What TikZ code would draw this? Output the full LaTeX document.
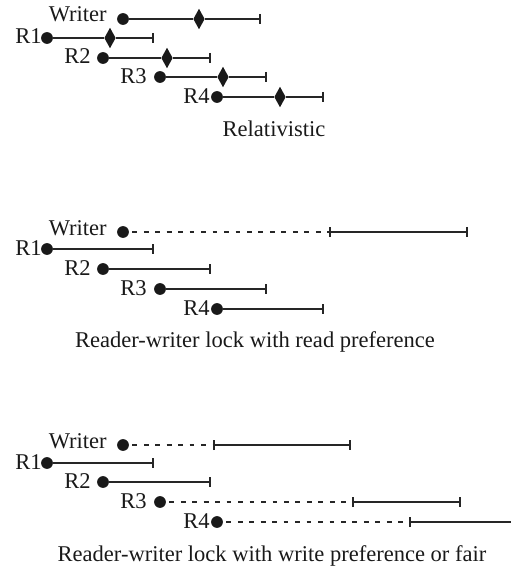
\documentclass[tikz,border=0pt]{standalone}
\usepackage{fontspec}
\setmainfont{Liberation Serif}
\usetikzlibrary{shapes.geometric,arrows.meta}
\begin{document}
\begin{tikzpicture}[x=0.75pt,y=-0.75pt,
  font=\fontsize{16.9pt}{20pt}\selectfont,
  dot/.style={circle,fill=black!90,draw=none,minimum size=8.8pt,inner sep=0pt},
  dia/.style={diamond,fill=black!90,draw=none,minimum width=8.6pt,minimum height=15.5pt,inner sep=0pt},
  lbl/.style={inner sep=0pt,anchor=base east,text=black!90},
  captext/.style={inner sep=0pt,anchor=base,text=black!90},
  seg/.style={line width=1.2pt,draw=black!85},
  endbar/.style={seg,-{Bar[width=7.5pt,line width=1.4pt]}},
  bothbar/.style={seg,{Bar[width=7.5pt,line width=1.4pt]}-{Bar[width=7.5pt,line width=1.4pt]}},
  startbar/.style={seg,{Bar[width=7.5pt,line width=1.4pt]}-},
  wait/.style={line width=1.2pt,draw=black!85,dash pattern=on 3.6pt off 5pt,dash phase=6.2pt}
]
\useasboundingbox (0,0) rectangle (511,573);

% ---------- Panel 1: Relativistic ----------
\node[dot] (w1) at (123,19) {};
\node[dia] (w1d) at (199,19) {};
\coordinate (w1e) at (261,19);
\node[lbl] (w1l) at (107,22) {Writer};
\draw[seg] (w1) -- (w1d);
\draw[endbar] (w1d) -- (w1e);

\node[dot] (a1) at (47,38) {};
\node[dia] (a1d) at (110,38) {};
\coordinate (a1e) at (154,38);
\node[lbl] (a1l) at (42,44) {R1};
\draw[seg] (a1) -- (a1d);
\draw[endbar] (a1d) -- (a1e);

\node[dot] (a2) at (103,58) {};
\node[dia] (a2d) at (167,58) {};
\coordinate (a2e) at (211,58);
\node[lbl] (a2l) at (91,64) {R2};
\draw[seg] (a2) -- (a2d);
\draw[endbar] (a2d) -- (a2e);

\node[dot] (a3) at (160,77) {};
\node[dia] (a3d) at (223,77) {};
\coordinate (a3e) at (267,77);
\node[lbl] (a3l) at (147,84) {R3};
\draw[seg] (a3) -- (a3d);
\draw[endbar] (a3d) -- (a3e);

\node[dot] (a4) at (217,97) {};
\node[dia] (a4d) at (280,97) {};
\coordinate (a4e) at (324,97);
\node[lbl] (a4l) at (210,104) {R4};
\draw[seg] (a4) -- (a4d);
\draw[endbar] (a4d) -- (a4e);

\node[captext] (c1) at (274,137) {Relativistic};

% ---------- Panel 2: read preference ----------
\node[dot] (w2) at (123,232) {};
\coordinate (w2m) at (329,232);
\coordinate (w2e) at (468,232);
\node[lbl] (w2l) at (107,235) {Writer};
\draw[wait] (w2) -- (w2m);
\draw[bothbar] (w2m) -- (w2e);

\node[dot] (b1) at (47,249) {};
\coordinate (b1e) at (154,249);
\node[lbl] (b1l) at (42,255) {R1};
\draw[endbar] (b1) -- (b1e);

\node[dot] (b2) at (103,269) {};
\coordinate (b2e) at (211,269);
\node[lbl] (b2l) at (91,275) {R2};
\draw[endbar] (b2) -- (b2e);

\node[dot] (b3) at (160,289) {};
\coordinate (b3e) at (267,289);
\node[lbl] (b3l) at (147,295) {R3};
\draw[endbar] (b3) -- (b3e);

\node[dot] (b4) at (217,309) {};
\coordinate (b4e) at (324,309);
\node[lbl] (b4l) at (210,315) {R4};
\draw[endbar] (b4) -- (b4e);

\node[captext] (c2) at (255,347) {Reader-writer lock with read preference};

% ---------- Panel 3: write preference or fair ----------
\node[dot] (w3) at (123,445) {};
\coordinate (w3m) at (213,445);
\coordinate (w3e) at (351,445);
\node[lbl] (w3l) at (107,448) {Writer};
\draw[wait] (w3) -- (w3m);
\draw[bothbar] (w3m) -- (w3e);

\node[dot] (d1) at (47,463) {};
\coordinate (d1e) at (154,463);
\node[lbl] (d1l) at (42,469) {R1};
\draw[endbar] (d1) -- (d1e);

\node[dot] (d2) at (103,482) {};
\coordinate (d2e) at (211,482);
\node[lbl] (d2l) at (91,488) {R2};
\draw[endbar] (d2) -- (d2e);

\node[dot] (d3) at (160,502) {};
\coordinate (d3m) at (352,502);
\coordinate (d3e) at (461,502);
\node[lbl] (d3l) at (147,508) {R3};
\draw[wait] (d3) -- (d3m);
\draw[bothbar] (d3m) -- (d3e);

\node[dot] (d4) at (217,522) {};
\coordinate (d4m) at (409,522);
\coordinate (d4e) at (511,522);
\node[lbl] (d4l) at (210,528) {R4};
\draw[wait] (d4) -- (d4m);
\draw[startbar] (d4m) -- (d4e);

\node[captext] (c3) at (272,561) {Reader-writer lock with write preference or fair};
\end{tikzpicture}
\end{document}
